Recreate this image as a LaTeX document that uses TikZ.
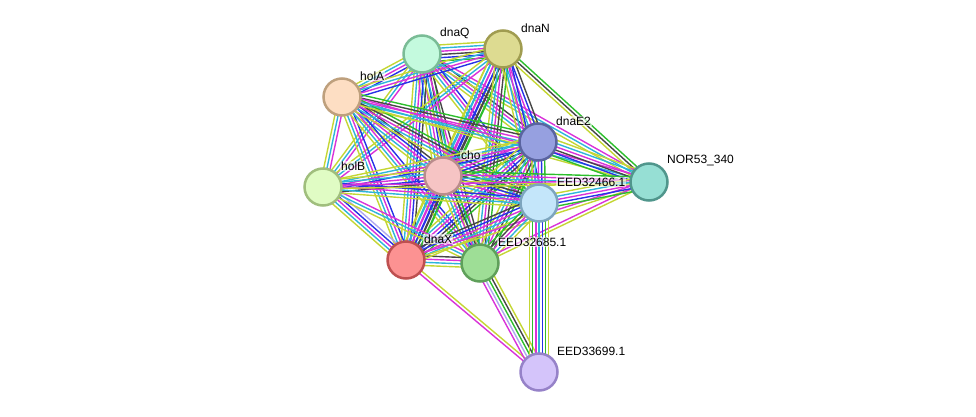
\documentclass[tikz,border=0pt]{standalone}
\usepackage{fontspec}
\setmainfont{Liberation Sans}
\usetikzlibrary{calc}
\pgfdeclarelayer{bg}
\pgfsetlayers{bg,main}

% one coloured line per evidence channel, side by side
\newcommand\linkbundle[3]{%
  \foreach \col [count=\i] in {#3} {\xdef\nlines{\i}}%
  \foreach \col [count=\i] in {#3} {%
    \pgfmathsetmacro\off{(\i-(\nlines+1)/2)*3.2}%
    \draw[link,draw=\col] ($(#1)!\off pt!90:(#2)$) -- ($(#2)!\off pt!-90:(#1)$);%
  }%
}

\begin{document}
\begin{tikzpicture}[x=1pt,y=-1pt,
    prot/.style 2 args={circle, minimum size=37pt, inner sep=0pt, line width=2.5pt, fill=#1, draw=#2},
    lbl/.style={anchor=west, font=\fontsize{12}{14}\selectfont, inner sep=1pt, fill=white, fill opacity=0.6, text opacity=1},
    link/.style={line width=1.4pt}]
    \definecolor{txtm}{RGB}{196,214,52}
    \definecolor{dbase}{RGB}{46,181,218}
    \definecolor{expt}{RGB}{217,50,217}
    \definecolor{cooc}{RGB}{38,51,230}
    \definecolor{nbhd}{RGB}{45,190,45}
    \definecolor{coex}{RGB}{71,71,71}
    \definecolor{homol}{RGB}{175,168,240}

    \definecolor{qfill}{RGB}{196,250,222}  \definecolor{qline}{RGB}{122,188,150}
    \definecolor{nfill}{RGB}{221,219,145}  \definecolor{nline}{RGB}{160,156,80}
    \definecolor{afill}{RGB}{253,222,195}  \definecolor{aline}{RGB}{190,160,125}
    \definecolor{efill}{RGB}{150,160,224}  \definecolor{eline}{RGB}{90,100,160}
    \definecolor{rfill}{RGB}{150,223,212}  \definecolor{rline}{RGB}{80,150,140}
    \definecolor{cfill}{RGB}{246,196,196}  \definecolor{cline}{RGB}{185,140,140}
    \definecolor{bfill}{RGB}{224,252,196}  \definecolor{bline}{RGB}{160,190,125}
    \definecolor{sfill}{RGB}{196,230,250}  \definecolor{sline}{RGB}{125,165,190}
    \definecolor{xfill}{RGB}{252,146,146}  \definecolor{xline}{RGB}{190,80,80}
    \definecolor{gfill}{RGB}{158,222,150}  \definecolor{gline}{RGB}{95,160,90}
    \definecolor{pfill}{RGB}{212,196,250}  \definecolor{pline}{RGB}{150,130,200}

    \useasboundingbox (0,0) rectangle (976,417);

    % proteins
    \foreach \nm/\x/\y/\fc/\dc/\txt in {
        dnaQ/422/54/qfill/qline/dnaQ,
        dnaN/503/49/nfill/nline/dnaN,
        holA/342/97/afill/aline/holA,
        dnaE2/538/142/efill/eline/dnaE2,
        nor/649/182/rfill/rline/NOR53\_340,
        cho/443/176/cfill/cline/cho,
        holB/323/187/bfill/bline/holB,
        eed466/539/203/sfill/sline/EED32466.1,
        dnaX/406/260/xfill/xline/dnaX,
        eed685/480/263/gfill/gline/EED32685.1,
        eed699/539/372/pfill/pline/EED33699.1} {
        \node[prot={\fc}{\dc}] (\nm) at (\x,\y) {};
        \node[lbl] (\nm-lbl) at ([shift={(17,-21)}]\nm.center) {\txt};
    }

    \begin{pgfonlayer}{bg}
    \linkbundle{dnaQ}{dnaN}{nbhd,cooc,coex,expt,dbase,txtm}
    \linkbundle{dnaQ}{holA}{txtm,dbase,expt,cooc}
    \linkbundle{dnaQ}{dnaE2}{txtm,dbase,expt,coex}
    \linkbundle{dnaQ}{cho}{txtm,dbase,expt,cooc,coex,nbhd}
    \linkbundle{dnaQ}{holB}{txtm,dbase,expt}
    \linkbundle{dnaQ}{dnaX}{txtm,dbase,expt,cooc,coex}
    \linkbundle{dnaQ}{eed685}{txtm,dbase,expt,coex}
    \linkbundle{dnaQ}{eed466}{txtm,dbase,expt,cooc}
    \linkbundle{dnaQ}{nor}{txtm,dbase,expt}
    \linkbundle{dnaN}{holA}{txtm,dbase,expt,cooc}
    \linkbundle{dnaN}{dnaE2}{txtm,dbase,expt,cooc,coex}
    \linkbundle{dnaN}{cho}{txtm,dbase,expt,cooc,coex,nbhd}
    \linkbundle{dnaN}{holB}{txtm,dbase,expt}
    \linkbundle{dnaN}{dnaX}{txtm,dbase,expt,cooc,coex,nbhd}
    \linkbundle{dnaN}{eed685}{txtm,dbase,expt,coex,nbhd}
    \linkbundle{dnaN}{eed466}{txtm,dbase,expt,cooc}
    \linkbundle{dnaN}{nor}{txtm,coex,nbhd}
    \linkbundle{holA}{dnaE2}{txtm,dbase,expt,coex,nbhd}
    \linkbundle{holA}{cho}{txtm,dbase,expt,cooc,coex}
    \linkbundle{holA}{holB}{txtm,dbase,expt}
    \linkbundle{holA}{dnaX}{txtm,dbase,expt,cooc}
    \linkbundle{holA}{eed685}{txtm,dbase,expt,cooc}
    \linkbundle{holA}{eed466}{txtm,dbase,expt,coex,nbhd}
    \linkbundle{holA}{nor}{txtm,dbase,expt}
    \linkbundle{dnaE2}{cho}{txtm,dbase,expt,cooc,coex,nbhd}
    \linkbundle{dnaE2}{holB}{txtm,dbase,expt,cooc}
    \linkbundle{dnaE2}{dnaX}{txtm,dbase,expt,cooc,coex,nbhd}
    \linkbundle{dnaE2}{eed685}{txtm,dbase,expt,coex,nbhd}
    \linkbundle{dnaE2}{eed466}{txtm,dbase,expt,cooc,nbhd}
    \linkbundle{dnaE2}{nor}{nbhd,cooc,coex,expt,dbase,txtm}
    \linkbundle{cho}{holB}{txtm,dbase,expt,cooc,coex}
    \linkbundle{cho}{dnaX}{txtm,dbase,expt,cooc,coex,nbhd}
    \linkbundle{cho}{eed685}{txtm,dbase,expt,coex,nbhd}
    \linkbundle{cho}{eed466}{txtm,dbase,expt,cooc,coex,nbhd}
    \linkbundle{cho}{nor}{txtm,dbase,expt,nbhd}
    \linkbundle{holB}{dnaX}{txtm,dbase,expt,cooc,homol}
    \linkbundle{holB}{eed685}{txtm,dbase,expt}
    \linkbundle{holB}{eed466}{txtm,dbase,expt,cooc}
    \linkbundle{holB}{nor}{txtm,expt}
    \linkbundle{dnaX}{eed685}{txtm,dbase,expt,coex}
    \linkbundle{dnaX}{eed466}{txtm,dbase,expt,cooc,coex}
    \linkbundle{dnaX}{nor}{txtm,expt}
    \linkbundle{dnaX}{eed699}{expt,txtm}
    \linkbundle{eed685}{eed466}{txtm,dbase,expt,coex,nbhd}
    \linkbundle{eed685}{nor}{txtm,expt}
    \linkbundle{eed685}{eed699}{expt,homol,nbhd,coex,txtm}
    \linkbundle{eed466}{nor}{nbhd,cooc,expt,dbase,txtm}
    \linkbundle{eed466}{eed699}{txtm,nbhd,expt,dbase,cooc,nbhd,txtm}
    \end{pgfonlayer}
\end{tikzpicture}
\end{document}
